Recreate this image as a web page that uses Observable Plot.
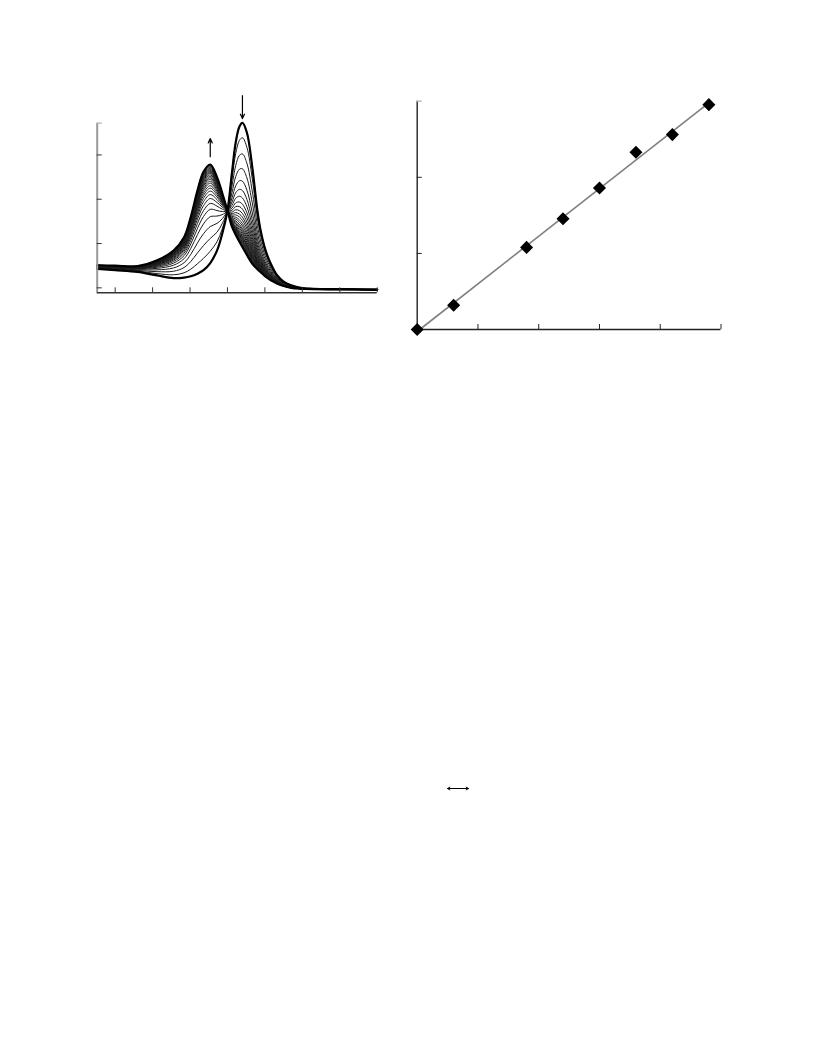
<!DOCTYPE html>
<html>
<head>
<meta charset="utf-8">
<script src="https://cdn.jsdelivr.net/npm/d3@7"></script>
<script src="https://cdn.jsdelivr.net/npm/@observablehq/plot@0.6"></script>
<style>
  html, body { margin: 0; padding: 0; background: #fff; }
  #page { position: relative; width: 816px; height: 1056px; background: #fff; overflow: hidden; font-family: "Liberation Sans", Arial, sans-serif; }
  .panel { position: absolute; }
  .panel svg { background: transparent; }
</style>
</head>
<body>
<div id="page">
  <div class="panel" id="spectra" style="left:60px; top:80px;"></div>
  <div class="panel" id="fit" style="left:380px; top:70px;"></div>
  <div class="panel" id="dbl" style="left:440px; top:778px;"></div>
</div>
<script>
// ---------- Left panel: absorption spectra ----------
const wavelengths = [376, 400, 430, 456, 478, 492, 501, 510, 518, 527, 536, 543, 550, 556, 561, 566, 570, 576, 583, 590, 594, 601, 608, 616, 625, 635, 648, 665, 700, 750];
const initialSpectrum = [0.215, 0.20, 0.18, 0.14, 0.11, 0.115, 0.13, 0.16, 0.20, 0.28, 0.42, 0.61, 0.872, 1.30, 1.64, 1.82, 1.862, 1.75, 1.37, 0.87, 0.66, 0.42, 0.27, 0.145, 0.07, 0.03, 0.0, -0.01, -0.015, -0.02];
const finalSpectrum = [0.255, 0.25, 0.245, 0.31, 0.42, 0.57, 0.80, 1.10, 1.31, 1.392, 1.25, 1.07, 0.872, 0.69, 0.60, 0.52, 0.46, 0.37, 0.275, 0.21, 0.18, 0.125, 0.085, 0.05, 0.02, 0.0, -0.01, -0.015, -0.018, -0.02];
// conversion fraction of each recorded spectrum (read from peak heights)
const conversion = [0, 0.12, 0.25, 0.37, 0.47, 0.545, 0.605, 0.655, 0.695, 0.73, 0.76, 0.785, 0.81, 0.83, 0.85, 0.865, 0.88, 0.895, 0.91, 0.92, 0.93, 0.94, 0.95, 0.96, 0.97, 0.98, 0.99, 1];
const spectraXTicks = [400, 450, 500, 550, 600, 650, 700, 750];
const spectraYTicks = [0, 0.5, 1, 1.5];
const spectraXDomain = [376, 750];
const spectraYDomain = [-0.056, 1.858];
const upArrow = [{x: 527, y1: 1.48, y2: 1.685}];
const downArrow = [{x: 570, y1: 2.17, y2: 1.91}];

const spectraRows = conversion.flatMap((f, k) =>
  wavelengths.map((w, i) => ({w, a: (1 - f) * initialSpectrum[i] + f * finalSpectrum[i], k}))
);
const endRows = spectraRows.filter(d => d.k === 0 || d.k === conversion.length - 1);

{
  const W = 340, H = 230, mL = 36.7, mR = 23.3, mT = 42.7, mB = 17.7;
  const fw = W - mL - mR, fh = H - mT - mB;
  const p = Plot.plot({
    width: W, height: H,
    marginLeft: mL, marginRight: mR, marginTop: mT, marginBottom: mB,
    x: {domain: spectraXDomain, axis: null},
    y: {domain: spectraYDomain, axis: null},
    marks: [
      Plot.line(spectraRows, {x: "w", y: "a", z: "k", stroke: "#1a1a1a", strokeWidth: 1, curve: "catmull-rom"}),
      Plot.line(endRows, {x: "w", y: "a", z: "k", stroke: "#000", strokeWidth: 2.2, curve: "catmull-rom"}),
      Plot.ruleX([spectraXDomain[0]], {y1: spectraYDomain[0], y2: spectraYDomain[1], stroke: "#999", strokeWidth: 2}),
      Plot.ruleY([spectraYDomain[0]], {x1: spectraXDomain[0], x2: spectraXDomain[1], stroke: "#333", strokeWidth: 1.5}),
      Plot.ruleX(spectraXTicks, {insetTop: fh - 5, stroke: "#333", strokeWidth: 1}),
      Plot.ruleY(spectraYTicks, {insetRight: fw - 5, stroke: "#333", strokeWidth: 1}),
      Plot.ruleY([spectraYDomain[1]], {insetRight: fw - 5, stroke: "#bbb", strokeWidth: 1.5}),
      Plot.arrow(upArrow, {x1: "x", x2: "x", y1: "y1", y2: "y2", stroke: "#000", strokeWidth: 1.2, headLength: 6, headAngle: 50}),
      Plot.arrow(downArrow, {x1: "x", x2: "x", y1: "y1", y2: "y2", stroke: "#000", strokeWidth: 1.2, headLength: 6, headAngle: 50})
    ]
  });
  document.getElementById("spectra").appendChild(p);
}

// ---------- Right panel: linear fit ----------
const fitX = [0, 0.6, 1.8, 2.4, 3.0, 3.6, 4.2, 4.8];
const fitY = [0, 0.32, 1.079, 1.455, 1.859, 2.329, 2.561, 2.955];
const fitXTicks = [1, 2, 3, 4, 5];
const fitYTicks = [1, 2];
const fitXDomain = [0, 5];
const fitYDomain = [0, 3];
const fitRows = fitX.map((x, i) => ({x, y: fitY[i]}));

{
  const W = 370, H = 360 - 70, mL = 36.7, mR = 29.5, mT = 30.7, mB = 31;
  const fw = W - mL - mR, fh = H - mT - mB;
  const p = Plot.plot({
    width: W, height: H,
    marginLeft: mL, marginRight: mR, marginTop: mT, marginBottom: mB,
    x: {domain: fitXDomain, axis: null},
    y: {domain: fitYDomain, axis: null},
    marks: [
      Plot.linearRegressionY(fitRows, {x: "x", y: "y", ci: 0, stroke: "#808080", strokeWidth: 1.6}),
      Plot.ruleX([fitXDomain[0]], {y1: fitYDomain[0], y2: fitYDomain[1], stroke: "#222", strokeWidth: 1.4}),
      Plot.ruleY([fitYDomain[0]], {x1: fitXDomain[0], x2: fitXDomain[1], stroke: "#222", strokeWidth: 1.4}),
      Plot.ruleX(fitXTicks, {insetTop: fh - 5, stroke: "#222", strokeWidth: 1}),
      Plot.ruleY(fitYTicks, {insetRight: fw - 5, stroke: "#222", strokeWidth: 1}),
      Plot.ruleY([fitYDomain[1]], {insetRight: fw - 5, stroke: "#bbb", strokeWidth: 1.5}),
      Plot.dot(fitRows, {x: "x", y: "y", symbol: "square", rotate: 45, r: 5.2, fill: "#000", stroke: "none"})
    ]
  });
  document.getElementById("fit").appendChild(p);
}

// ---------- Small double-headed arrow ----------
const doubleArrow = [{x1: 0.5, x2: 0}, {x1: 0.5, x2: 1}];
{
  const p = Plot.plot({
    width: 36, height: 20,
    marginLeft: 7, marginRight: 8, marginTop: 10, marginBottom: 10,
    x: {domain: [0, 1], axis: null},
    y: {domain: [0, 1], axis: null},
    marks: [
      Plot.arrow(doubleArrow, {x1: "x1", x2: "x2", y1: 0.5, y2: 0.5, stroke: "#000", strokeWidth: 1, headLength: 4, headAngle: 60})
    ]
  });
  document.getElementById("dbl").appendChild(p);
}
</script>
</body>
</html>
